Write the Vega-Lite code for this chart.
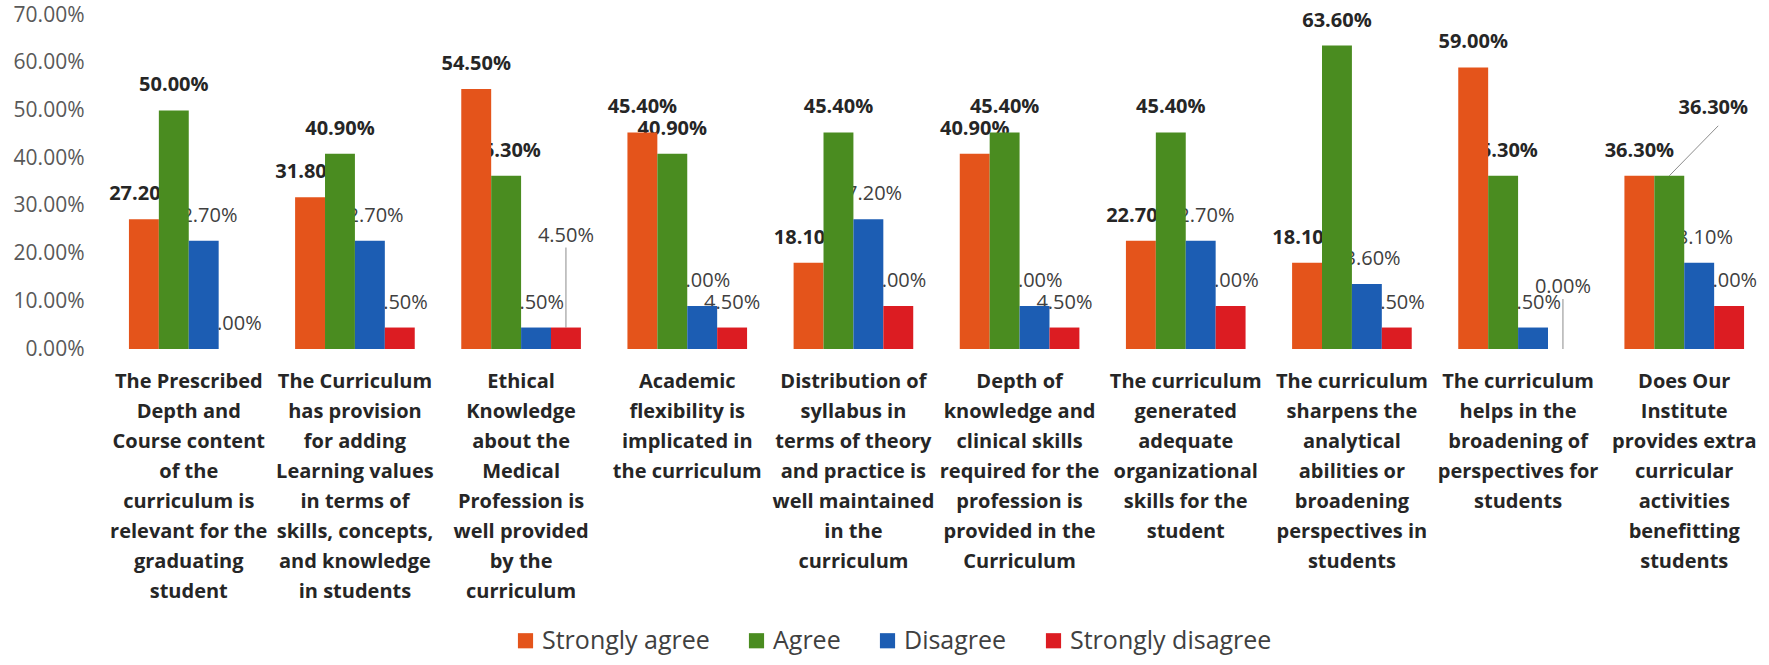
{
  "$schema": "https://vega.github.io/schema/vega-lite/v6.json",
  "width": 1655,
  "height": 334,
  "padding": {"left": 13, "top": 4, "right": 0, "bottom": 40},
  "background": "white",
  "config": {
    "view": {"stroke": null},
    "font": "Open Sans",
    "legend": {"orient": "none", "legendX": 404, "legendY": 613, "direction": "horizontal", "title": null, "labelFontSize": 25, "labelColor": "#404040", "labelLimit": 0, "symbolType": "square", "symbolSize": 230, "symbolStrokeWidth": 0, "columnPadding": 34, "labelFont": "Open Sans"}
  },
  "data": {"values": [
    {"item": "The Prescribed|Depth and|Course content|of the|curriculum  is|relevant for the|graduating|student", "resp": "Strongly agree", "pct": 0.272},
    {"item": "The Prescribed|Depth and|Course content|of the|curriculum  is|relevant for the|graduating|student", "resp": "Agree", "pct": 0.500},
    {"item": "The Prescribed|Depth and|Course content|of the|curriculum  is|relevant for the|graduating|student", "resp": "Disagree", "pct": 0.227},
    {"item": "The Prescribed|Depth and|Course content|of the|curriculum  is|relevant for the|graduating|student", "resp": "Strongly disagree", "pct": 0.000},
    {"item": "The Curriculum|has provision|for  adding|Learning values|in terms of|skills, concepts,|and knowledge|in students", "resp": "Strongly agree", "pct": 0.318},
    {"item": "The Curriculum|has provision|for  adding|Learning values|in terms of|skills, concepts,|and knowledge|in students", "resp": "Agree", "pct": 0.409},
    {"item": "The Curriculum|has provision|for  adding|Learning values|in terms of|skills, concepts,|and knowledge|in students", "resp": "Disagree", "pct": 0.227},
    {"item": "The Curriculum|has provision|for  adding|Learning values|in terms of|skills, concepts,|and knowledge|in students", "resp": "Strongly disagree", "pct": 0.045},
    {"item": "Ethical|Knowledge|about the|Medical|Profession is|well provided|by the|curriculum", "resp": "Strongly agree", "pct": 0.545},
    {"item": "Ethical|Knowledge|about the|Medical|Profession is|well provided|by the|curriculum", "resp": "Agree", "pct": 0.363},
    {"item": "Ethical|Knowledge|about the|Medical|Profession is|well provided|by the|curriculum", "resp": "Disagree", "pct": 0.045},
    {"item": "Ethical|Knowledge|about the|Medical|Profession is|well provided|by the|curriculum", "resp": "Strongly disagree", "pct": 0.045},
    {"item": "Academic|flexibility is|implicated in|the curriculum", "resp": "Strongly agree", "pct": 0.454},
    {"item": "Academic|flexibility is|implicated in|the curriculum", "resp": "Agree", "pct": 0.409},
    {"item": "Academic|flexibility is|implicated in|the curriculum", "resp": "Disagree", "pct": 0.090},
    {"item": "Academic|flexibility is|implicated in|the curriculum", "resp": "Strongly disagree", "pct": 0.045},
    {"item": "Distribution of|syllabus in|terms of theory|and practice is|well maintained|in the|curriculum", "resp": "Strongly agree", "pct": 0.181},
    {"item": "Distribution of|syllabus in|terms of theory|and practice is|well maintained|in the|curriculum", "resp": "Agree", "pct": 0.454},
    {"item": "Distribution of|syllabus in|terms of theory|and practice is|well maintained|in the|curriculum", "resp": "Disagree", "pct": 0.272},
    {"item": "Distribution of|syllabus in|terms of theory|and practice is|well maintained|in the|curriculum", "resp": "Strongly disagree", "pct": 0.090},
    {"item": "Depth of|knowledge  and|clinical skills|required for the|profession is|provided in  the|Curriculum", "resp": "Strongly agree", "pct": 0.409},
    {"item": "Depth of|knowledge  and|clinical skills|required for the|profession is|provided in  the|Curriculum", "resp": "Agree", "pct": 0.454},
    {"item": "Depth of|knowledge  and|clinical skills|required for the|profession is|provided in  the|Curriculum", "resp": "Disagree", "pct": 0.090},
    {"item": "Depth of|knowledge  and|clinical skills|required for the|profession is|provided in  the|Curriculum", "resp": "Strongly disagree", "pct": 0.045},
    {"item": "The curriculum|generated|adequate|organizational|skills for the|student", "resp": "Strongly agree", "pct": 0.227},
    {"item": "The curriculum|generated|adequate|organizational|skills for the|student", "resp": "Agree", "pct": 0.454},
    {"item": "The curriculum|generated|adequate|organizational|skills for the|student", "resp": "Disagree", "pct": 0.227},
    {"item": "The curriculum|generated|adequate|organizational|skills for the|student", "resp": "Strongly disagree", "pct": 0.090},
    {"item": "The curriculum|sharpens the|analytical|abilities or|broadening|perspectives in|students", "resp": "Strongly agree", "pct": 0.181},
    {"item": "The curriculum|sharpens the|analytical|abilities or|broadening|perspectives in|students", "resp": "Agree", "pct": 0.636},
    {"item": "The curriculum|sharpens the|analytical|abilities or|broadening|perspectives in|students", "resp": "Disagree", "pct": 0.136},
    {"item": "The curriculum|sharpens the|analytical|abilities or|broadening|perspectives in|students", "resp": "Strongly disagree", "pct": 0.045},
    {"item": "The curriculum|helps in the|broadening of|perspectives for|students", "resp": "Strongly agree", "pct": 0.590},
    {"item": "The curriculum|helps in the|broadening of|perspectives for|students", "resp": "Agree", "pct": 0.363},
    {"item": "The curriculum|helps in the|broadening of|perspectives for|students", "resp": "Disagree", "pct": 0.045},
    {"item": "The curriculum|helps in the|broadening of|perspectives for|students", "resp": "Strongly disagree", "pct": 0.000},
    {"item": "Does Our|Institute|provides extra|curricular|activities|benefitting|students", "resp": "Strongly agree", "pct": 0.363},
    {"item": "Does Our|Institute|provides extra|curricular|activities|benefitting|students", "resp": "Agree", "pct": 0.363},
    {"item": "Does Our|Institute|provides extra|curricular|activities|benefitting|students", "resp": "Disagree", "pct": 0.181},
    {"item": "Does Our|Institute|provides extra|curricular|activities|benefitting|students", "resp": "Strongly disagree", "pct": 0.090}
  ]},
  "encoding": {
    "x": {
      "field": "item", "type": "nominal", "sort": null, "title": null,
      "scale": {"paddingInner": 0.28, "paddingOuter": 0.12},
      "axis": {"labelExpr": "split(datum.label, '|')", "labelAngle": 0, "labelFont": "Open Sans", "labelFontSize": 20, "labelFontWeight": "bold", "labelColor": "#262626", "labelLineHeight": 30, "labelPadding": 22, "labelBaseline": "top", "labelLimit": 0, "domain": false, "ticks": false}
    },
    "xOffset": {"field": "resp", "type": "nominal", "sort": ["Strongly agree", "Agree", "Disagree", "Strongly disagree"]},
    "y": {
      "field": "pct", "type": "quantitative", "title": null,
      "scale": {"domain": [0, 0.7], "nice": false},
      "axis": {"values": [0, 0.1, 0.2, 0.3, 0.4, 0.5, 0.6, 0.7], "format": ".2%", "labelFont": "Open Sans", "labelFontSize": 21, "labelColor": "#595959", "labelPadding": 25, "domain": false, "ticks": false, "grid": false}
    }
  },
  "layer": [
    {
      "transform": [{"filter": "(datum.resp === 'Strongly agree' || datum.resp === 'Agree') && !(datum.resp === 'Agree' && indexof(datum.item, 'Does Our') === 0)"}],
      "mark": {"type": "text", "baseline": "middle", "dy": -25, "fontSize": 20, "fontWeight": "bold", "color": "#262626"},
      "encoding": {"text": {"field": "pct", "type": "quantitative", "format": ".2%"}}
    },
    {
      "transform": [{"filter": "datum.resp === 'Agree' && indexof(datum.item, 'Does Our') === 0"}],
      "mark": {"type": "text", "baseline": "middle", "dx": 44, "dy": -68, "fontSize": 20, "fontWeight": "bold", "color": "#262626"},
      "encoding": {"text": {"field": "pct", "type": "quantitative", "format": ".2%"}}
    },
    {
      "transform": [{"filter": "(datum.resp === 'Disagree' || datum.resp === 'Strongly disagree') && !(datum.resp === 'Strongly disagree' && (indexof(datum.item, 'Ethical') === 0 || indexof(datum.item, 'The curriculum|helps') === 0))"}],
      "mark": {"type": "text", "baseline": "middle", "dy": -25, "fontSize": 20, "color": "#404040"},
      "encoding": {"text": {"field": "pct", "type": "quantitative", "format": ".2%"}}
    },
    {
      "transform": [{"filter": "datum.resp === 'Strongly disagree' && indexof(datum.item, 'Ethical') === 0"}],
      "mark": {"type": "text", "baseline": "middle", "dy": -92, "fontSize": 20, "color": "#404040"},
      "encoding": {"text": {"field": "pct", "type": "quantitative", "format": ".2%"}}
    },
    {
      "transform": [{"filter": "datum.resp === 'Strongly disagree' && indexof(datum.item, 'The curriculum|helps') === 0"}],
      "mark": {"type": "text", "baseline": "middle", "dy": -62, "fontSize": 20, "color": "#404040"},
      "encoding": {"text": {"field": "pct", "type": "quantitative", "format": ".2%"}}
    },
    {
      "transform": [{"filter": "datum.resp === 'Strongly disagree' && indexof(datum.item, 'Ethical') === 0"}],
      "mark": {"type": "rule", "color": "#8c8c8c", "strokeWidth": 1, "y2Offset": -80},
      "encoding": {"y2": {"field": "pct"}}
    },
    {
      "transform": [{"filter": "datum.resp === 'Strongly disagree' && indexof(datum.item, 'The curriculum|helps') === 0"}],
      "mark": {"type": "rule", "color": "#8c8c8c", "strokeWidth": 1, "y2Offset": -50},
      "encoding": {"y2": {"field": "pct"}}
    },
    {
      "transform": [{"filter": "datum.resp === 'Agree' && indexof(datum.item, 'Does Our') === 0"}],
      "mark": {"type": "rule", "color": "#8c8c8c", "strokeWidth": 1, "xOffset": 2, "x2Offset": 34, "y2Offset": -50},
      "encoding": {"x2": {"field": "item"}, "y2": {"field": "pct"}}
    },
    {
      "mark": {"type": "bar"},
      "encoding": {
        "color": {
          "field": "resp", "type": "nominal", "sort": ["Strongly agree", "Agree", "Disagree", "Strongly disagree"],
          "scale": {"domain": ["Strongly agree", "Agree", "Disagree", "Strongly disagree"], "range": ["#E4541B", "#4A8C20", "#1C5DB3", "#DC1C22"]}
        }
      }
    }
  ]
}
